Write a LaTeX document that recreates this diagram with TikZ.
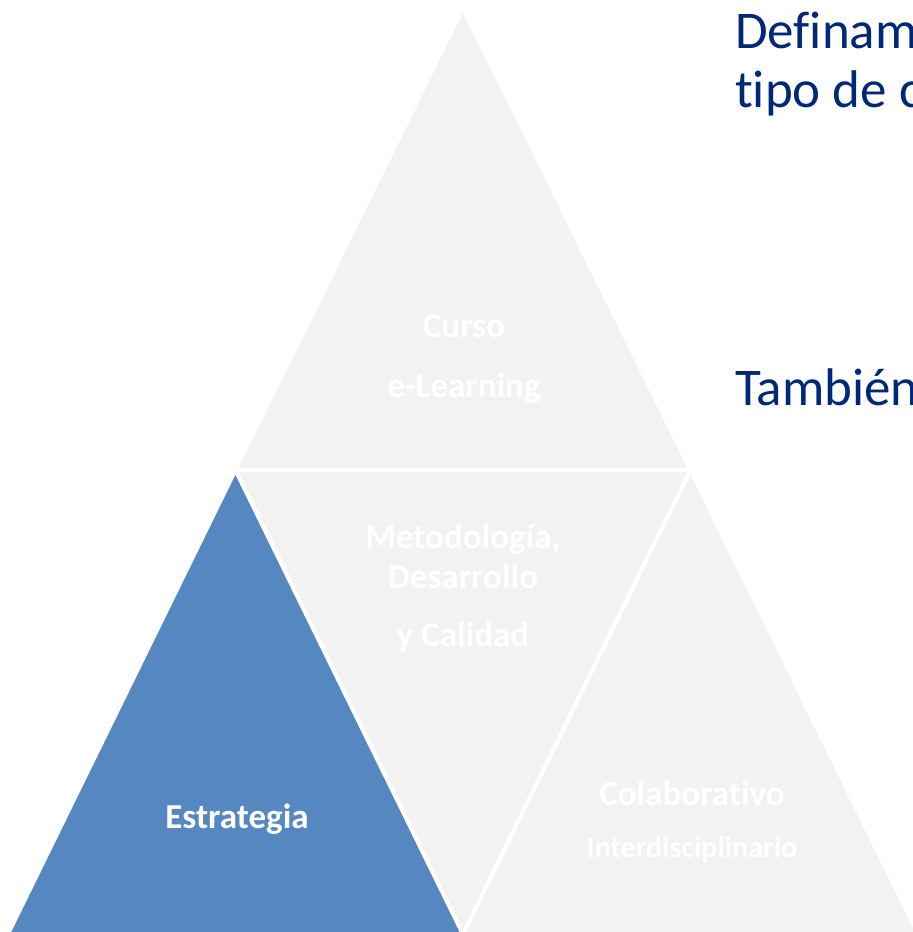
\documentclass[tikz,border=0pt]{standalone}
\usepackage{fontspec}
\setmainfont{Carlito}[RawFeature=-liga]
\usetikzlibrary{positioning}

\definecolor{titleblue}{HTML}{002878}
\definecolor{piecegray}{HTML}{F2F2F2}
\definecolor{pieceblue}{HTML}{5588C1}

\begin{document}
\begin{tikzpicture}[x=1pt, y=-1pt,
    piece/.style={fill=piecegray, draw=white, line width=4pt, line join=round},
    lbl/.style={text=white, font=\bfseries\fontsize{35}{40}\selectfont, inner sep=0pt, anchor=base},
    note/.style={text=titleblue, font=\fontsize{53}{59}\selectfont, inner sep=0pt, anchor=base west}]
    \clip (0,0) rectangle (913,932);
    \fill[white] (0,0) rectangle (913,932);

    % Corners
    \coordinate (top) at (463,8);
    \coordinate (ml) at (235.5,470);
    \coordinate (mr) at (690.5,470);
    \coordinate (bl) at (8,934);
    \coordinate (bm) at (463,934);
    \coordinate (br) at (918,934);

    % Pieces
    \draw[piece] (top) -- (ml) -- (mr) -- cycle;
    \draw[piece, fill=pieceblue] (ml) -- (bl) -- (bm) -- cycle;
    \draw[piece] (ml) -- (mr) -- (bm) -- cycle;
    \draw[piece] (mr) -- (bm) -- (br) -- cycle;

    % Labels
    \node[lbl] (curso) at (464,337) {Curso};
    \node[lbl] (elearn) at (464,397) {e-Learning};
    \node[lbl] (metodo) at (463,548) {Metodología,};
    \node[lbl] (desarr) at (463,588) {Desarrollo};
    \node[lbl] (calidad) at (463,646) {y Calidad};
    \node[lbl] (estrat) at (237,828) {Estrategia};
    \node[lbl] (colab) at (692,805) {Colaborativo};
    \node[lbl, font=\bfseries\fontsize{30}{34}\selectfont] (inter) at (692,857) {Interdisciplinario};

    % Side text
    \node[note] (def) at (735,48) {Definam};
    \node[note] (tipo) at (735,107) {tipo de c};
    \node[note] (tamb) at (735,405) {También};
\end{tikzpicture}
\end{document}
